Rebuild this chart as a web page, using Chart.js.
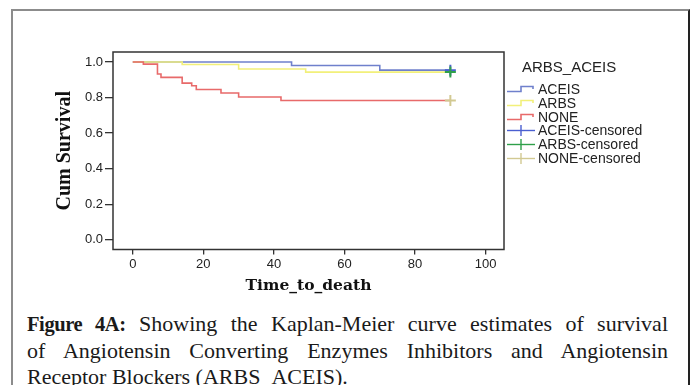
<!DOCTYPE html>
<html>
<head>
<meta charset="utf-8">
<script src="https://cdn.jsdelivr.net/npm/chart.js@4/dist/chart.umd.min.js"></script>
<style>
  html, body { margin: 0; padding: 0; background: #fff; }
  body { width: 694px; height: 385px; position: relative; overflow: hidden; }
  #frame { position: absolute; left: 11px; top: 9px; width: 675px; height: 420px;
           border-left: 2px solid #8c8c8c; border-top: 2px solid #8c8c8c; border-right: 2px solid #222; }
  #wrap { position: absolute; left: 0; top: 0; width: 694px; height: 300px; }
  #legend { position: absolute; left: 506px; top: 58px; font-family: 'Liberation Sans', Arial, sans-serif; color: #222; }
  #legend .title { position: absolute; left: 16px; top: 0; font-size: 15px; white-space: nowrap; }
  #legend .item { position: absolute; left: 0; height: 14px; white-space: nowrap; font-size: 14px; line-height: 14px; }
  #legend .item svg { position: absolute; left: 0; top: 0; }
  #legend .item span { position: absolute; left: 32px; top: 0; }
  #caption { position: absolute; left: 27px; top: 311px; width: 641px; font-family: 'Liberation Serif', 'Times New Roman', serif;
             font-size: 22px; line-height: 26.5px; color: #1a1a1a; }
  #caption .j { text-align: justify; text-align-last: justify; }
  #caption b { font-weight: bold; font-size: 20.5px; letter-spacing: -0.4px; }
</style>
</head>
<body>
<div id="frame"></div>
<div id="wrap"><canvas id="c" width="694" height="300"></canvas></div>
<div id="legend"></div>
<div id="caption">
  <div class="j"><b>Figure 4A:</b> Showing the Kaplan-Meier curve estimates of survival</div>
  <div class="j">of Angiotensin Converting Enzymes Inhibitors and Angiotensin</div>
  <div>Receptor Blockers (ARBS_ACEIS).</div>
</div>
<script>
// ---- data ----
const legendTitle = 'ARBS_ACEIS';
const groups = ['ACEIS', 'ARBS', 'NONE'];
const aceisTime = [0, 45, 70, 90];
const aceisSurv = [1.0, 0.980, 0.954, 0.954];
const arbsTime  = [0, 14, 30, 49, 90];
const arbsSurv  = [1.0, 0.986, 0.960, 0.943, 0.943];
const noneTime  = [0, 3, 7, 8, 14, 16.7, 18, 25, 30, 42, 90];
const noneSurv  = [1.0, 0.988, 0.932, 0.913, 0.881, 0.866, 0.845, 0.825, 0.803, 0.783, 0.783];
const aceisCensorTime = [90];
const arbsCensorTime  = [90];
const noneCensorTime  = [90];
const xTicks = [0, 20, 40, 60, 80, 100];
const yTicks = [0.0, 0.2, 0.4, 0.6, 0.8, 1.0];
const xTitle = 'Time_to_death';
const yTitle = 'Cum Survival';

// ---- styles ----
const lineColors   = ['#6f80cc', '#f2f07a', '#e86a6a'];
const censorColors = ['#4a5fd0', '#2fa04a', '#d2c992'];

function pts(t, s) { return t.map((v, i) => ({ x: v, y: s[i] })); }
function survAt(t, s, time) { let v = s[0]; for (let i = 0; i < t.length; i++) if (t[i] <= time) v = s[i]; return v; }

const series = [
  { name: 'ACEIS', t: aceisTime, s: aceisSurv, c: aceisCensorTime },
  { name: 'ARBS',  t: arbsTime,  s: arbsSurv,  c: arbsCensorTime },
  { name: 'NONE',  t: noneTime,  s: noneSurv,  c: noneCensorTime }
];

const datasets = [];
series.forEach((g, i) => {
  datasets.push({
    label: g.name, data: pts(g.t, g.s), stepped: 'before',
    borderColor: lineColors[i], borderWidth: 1.6, pointRadius: 0, fill: false, order: 10 - i
  });
});
series.forEach((g, i) => {
  datasets.push({
    label: g.name + '-censored', data: g.c.map(t => ({ x: t, y: survAt(g.t, g.s, t) })),
    showLine: false, pointStyle: 'cross', pointRadius: 5.5, pointBorderWidth: 2,
    pointBorderColor: censorColors[i], borderColor: censorColors[i], backgroundColor: censorColors[i],
    order: i === 1 ? 0 : 1
  });
});

const boxPlugin = {
  id: 'box',
  afterDatasetsDraw(chart) {
    const a = chart.chartArea, ctx = chart.ctx;
    ctx.save();
    ctx.strokeStyle = '#333'; ctx.lineWidth = 1.5;
    ctx.strokeRect(a.left, a.top, a.right - a.left, a.bottom - a.top);
    ctx.restore();
  }
};

Chart.defaults.font.family = "'Liberation Sans', Arial, sans-serif";
Chart.defaults.color = '#222';

new Chart(document.getElementById('c'), {
  type: 'line',
  data: { datasets },
  options: {
    responsive: false, animation: false, devicePixelRatio: 1,
    layout: { padding: { left: 53, right: 190, top: 52, bottom: 2.3 } },
    plugins: { legend: { display: false }, tooltip: { enabled: false } },
    scales: {
      x: {
        type: 'linear', min: -5.6, max: 105.2,
        afterBuildTicks: s => { s.ticks = xTicks.map(v => ({ value: v })); },
        afterFit: s => { s.height = 48.2; },
        ticks: { font: { size: 13 }, padding: 2, color: '#222', maxRotation: 0 },
        grid: { drawOnChartArea: false, drawTicks: true, tickLength: 5, color: '#333', lineWidth: 1.3 },
        border: { display: false },
        title: { display: true, text: xTitle, padding: { top: 0, bottom: 2 },
                 font: { family: "'DejaVu Serif', serif", weight: 'bold', size: 15.5 }, color: '#111' }
      },
      y: {
        type: 'linear', min: -0.055, max: 1.056,
        afterBuildTicks: s => { s.ticks = yTicks.map(v => ({ value: v })); },
        afterFit: s => { s.width = 60; },
        ticks: { font: { size: 13 }, padding: 2, color: '#222', callback: v => v.toFixed(1) },
        grid: { drawOnChartArea: false, drawTicks: true, tickLength: 8, color: '#333', lineWidth: 1.3 },
        border: { display: false },
        title: { display: true, text: yTitle, padding: { top: 0, bottom: 0 },
                 font: { family: "'Liberation Serif', serif", weight: 'bold', size: 20 }, color: '#111' }
      }
    }
  },
  plugins: [boxPlugin]
});

// ---- legend (HTML, built from the same series) ----
const leg = document.getElementById('legend');
const t = document.createElement('div'); t.className = 'title'; t.textContent = legendTitle; leg.appendChild(t);
const rowTops = 24.3, pitch = 13.7;
const items = [];
series.forEach((g, i) => items.push({ name: g.name, kind: 'step', color: lineColors[i] }));
series.forEach((g, i) => items.push({ name: g.name + '-censored', kind: 'cross', color: censorColors[i] }));
items.forEach((it, k) => {
  const d = document.createElement('div'); d.className = 'item';
  d.style.top = (rowTops + k * pitch) + 'px';
  let svg;
  if (it.kind === 'step') {
    svg = `<svg width="30" height="14"><polyline points="1,9.5 15,9.5 15,4.5 27,4.5 27,7" fill="none" stroke="${it.color}" stroke-width="1.6"/></svg>`;
  } else {
    svg = `<svg width="30" height="14"><line x1="1" y1="7.5" x2="29" y2="7.5" stroke="${it.color}" stroke-width="1.4"/><line x1="15" y1="2" x2="15" y2="13" stroke="${it.color}" stroke-width="1.4"/></svg>`;
  }
  d.innerHTML = svg + '<span></span>';
  d.querySelector('span').textContent = it.name;
  leg.appendChild(d);
});
</script>
</body>
</html>
